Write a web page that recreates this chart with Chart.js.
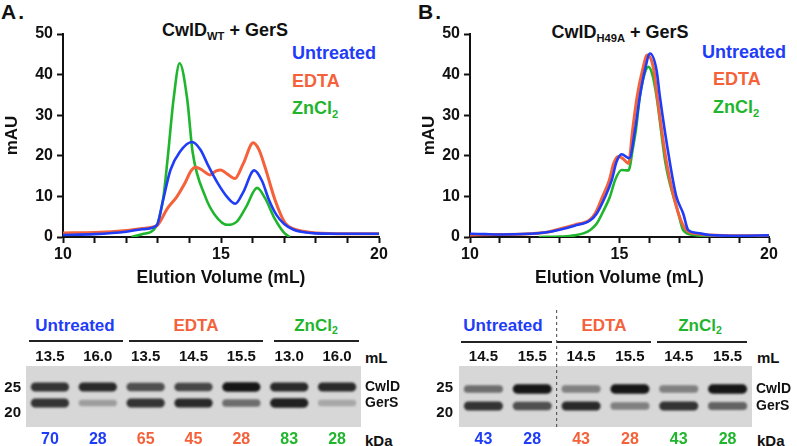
<!DOCTYPE html>
<html>
<head>
<meta charset="utf-8">
<script src="https://cdn.jsdelivr.net/npm/chart.js@4.4.0/dist/chart.umd.min.js"></script>
<style>
body { margin:0; width:797px; height:446px; background:#fff; position:relative; overflow:hidden;
       font-family:"Liberation Sans", Arial, Helvetica, sans-serif; font-weight:bold; color:#111; }
canvas { position:absolute; }
.t { position:absolute; white-space:nowrap; transform:translate(0,-50%); line-height:1; }
.c { transform:translate(-50%,-50%); }
.rule { position:absolute; height:2px; background:#222; }
sub { font-size:0.62em; vertical-align:-0.35em; line-height:0; }
.blue { color:#1f3cf7; } .orange { color:#f4613a; } .green { color:#1fb52d; }
</style>
</head>
<body>

<div class="t" style="left:1px;top:11px;font-size:21px;letter-spacing:2px">A.</div>
<div class="t c" style="left:225px;top:30px;font-size:18px">CwlD<sub>WT</sub> + GerS</div>
<div class="t blue" style="left:292px;top:53px;font-size:18px">Untreated</div>
<div class="t orange" style="left:292px;top:81px;font-size:18px">EDTA</div>
<div class="t green" style="left:292px;top:108px;font-size:18px">ZnCl<sub>2</sub></div>

<div class="t" style="left:418px;top:11px;font-size:21px;letter-spacing:2px">B.</div>
<div class="t c" style="left:620px;top:32px;font-size:18px">CwlD<sub>H49A</sub> + GerS</div>
<div class="t blue" style="left:702px;top:52px;font-size:18px">Untreated</div>
<div class="t orange" style="left:713px;top:79px;font-size:18px">EDTA</div>
<div class="t green" style="left:713px;top:107px;font-size:18px">ZnCl<sub>2</sub></div>

<canvas id="traceA" width="397" height="292" style="left:0;top:0"></canvas>
<canvas id="traceB" width="400" height="292" style="left:397px;top:0"></canvas>

<!-- gel headers -->
<div class="t c blue" style="left:75px;top:325px;font-size:17px">Untreated</div>
<div class="t c orange" style="left:196px;top:325px;font-size:17px">EDTA</div>
<div class="t c green" style="left:316px;top:325px;font-size:17px">ZnCl<sub>2</sub></div>
<div class="rule" style="left:29px;width:94px;top:340px"></div>
<div class="rule" style="left:129px;width:134px;top:340px"></div>
<div class="rule" style="left:274px;width:85px;top:340px"></div>
<div class="t" style="left:365px;top:357px;font-size:15px">mL</div>
<div class="t" style="left:365px;top:440px;font-size:15px">kDa</div>

<div class="t c blue" style="left:503px;top:325px;font-size:17px">Untreated</div>
<div class="t c orange" style="left:604px;top:325px;font-size:17px">EDTA</div>
<div class="t c green" style="left:700px;top:325px;font-size:17px">ZnCl<sub>2</sub></div>
<div class="rule" style="left:461px;width:91px;top:341px"></div>
<div class="rule" style="left:557px;width:94px;top:341px"></div>
<div class="rule" style="left:657px;width:90px;top:341px"></div>
<div class="t" style="left:757px;top:357px;font-size:15px">mL</div>
<div class="t" style="left:757px;top:440px;font-size:15px">kDa</div>

<canvas id="gelA" width="420" height="146" style="left:0;top:300px"></canvas>
<canvas id="gelB" width="400" height="146" style="left:397px;top:300px"></canvas>

<script>
// ---- panel A traces (CwlD WT + GerS): elution volume (mL) / absorbance (mAU)
const wtUntreatedVol = [10, 11, 12, 12.5, 12.97, 13.15, 13.4, 13.7, 14.08, 14.35, 14.6, 14.9, 15.2, 15.45, 15.7, 16.05, 16.3, 16.5, 16.75, 17.0, 17.3, 17.7, 18, 19, 20];
const wtUntreatedAbs = [0.5, 0.7, 1.3, 1.9, 2.9, 8.5, 16.5, 21.0, 23.4, 21.5, 17.5, 13.2, 9.8, 8.2, 11.0, 16.4, 13.8, 9.5, 5.5, 3.2, 1.8, 1.1, 0.9, 0.8, 0.8];
const wtEdtaVol = [10, 11, 12, 12.5, 12.97, 13.3, 13.6, 13.86, 14.05, 14.2, 14.4, 14.65, 14.85, 14.99, 15.2, 15.44, 15.7, 16.02, 16.2, 16.39, 16.71, 17.03, 17.3, 17.6, 18, 19, 20];
const wtEdtaAbs = [1.0, 1.1, 1.6, 2.1, 2.8, 7.0, 9.9, 13.3, 16.3, 17.2, 16.5, 15.3, 16.3, 16.5, 15.5, 14.4, 18.0, 23.2, 21.5, 17.3, 9.1, 3.4, 2.0, 1.4, 1.0, 0.8, 0.8];
const wtZnVol = [12.17, 12.5, 12.86, 13.0, 13.18, 13.32, 13.5, 13.69, 13.93, 14.1, 14.5, 14.8, 15.2, 15.5, 15.8, 16.14, 16.4, 16.7, 17.0, 17.18];
const wtZnAbs = [0, 0.7, 1.7, 3.5, 10, 20, 34, 42.8, 34, 21, 10, 5.5, 3.0, 3.8, 7.5, 12.1, 9.5, 4.5, 1.0, 0];

// ---- panel B traces (CwlD H49A + GerS)
const h49UntreatedVol = [10, 10.5, 11, 12, 12.5, 13, 13.5, 14, 14.24, 14.52, 14.74, 14.9, 15.07, 15.33, 15.52, 15.68, 15.85, 16.02, 16.24, 16.35, 16.69, 16.9, 17.13, 17.3, 17.6, 18, 19, 20];
const h49UntreatedAbs = [0.8, 0.7, 0.6, 0.8, 1.1, 1.8, 2.8, 4.0, 5.8, 9.9, 14.0, 18.5, 20.4, 19.4, 26.4, 34.6, 41.1, 45.2, 41.1, 34.6, 18.1, 10, 5.8, 1.7, 1.0, 0.5, 0.3, 0.4];
const h49EdtaVol = [10, 11, 12, 12.5, 13, 13.5, 14, 14.2, 14.43, 14.66, 14.8, 14.96, 15.12, 15.3, 15.44, 15.59, 15.77, 15.93, 16.15, 16.26, 16.58, 16.97, 17.24, 17.6, 18, 19, 20];
const h49EdtaAbs = [0.5, 0.6, 0.8, 1.1, 2.0, 3.0, 4.2, 6.0, 9.9, 14.0, 18.0, 19.8, 19.3, 18.1, 26.4, 34.6, 41.1, 44.8, 41.1, 34.6, 18.1, 5.8, 1.7, 0.8, 0.5, 0.3, 0.3];
const h49ZnVol = [12.3, 13, 13.5, 14, 14.24, 14.5, 14.68, 14.85, 15.07, 15.3, 15.45, 15.55, 15.68, 15.85, 15.97, 16.1, 16.24, 16.54, 16.97, 17.13, 17.5, 18, 18.7];
const h49ZnAbs = [0, 0.1, 0.4, 1.6, 3.3, 7.0, 9.9, 14.0, 16.5, 16.4, 22, 26.4, 34.6, 40.5, 41.9, 40, 34.6, 18.1, 5.8, 1.7, 0.5, 0.2, 0];

const xTickLabels = [10, 15, 20];

// ---- gels: lanes, MW markers and band intensities (0..1)
const markerKda = [25, 20];
const bandNames = ['CwlD', 'GerS'];
const gelAVolumes = ['13.5', '16.0', '13.5', '14.5', '15.5', '13.0', '16.0'];
const gelAKda = ['70', '28', '65', '45', '28', '83', '28'];
const gelAGroups = ['Untreated', 'Untreated', 'EDTA', 'EDTA', 'EDTA', 'ZnCl2', 'ZnCl2'];
const gelACwlD = [0.85, 0.9, 0.7, 0.75, 1.0, 0.9, 0.9];
const gelAGerS = [0.85, 0.3, 0.85, 0.9, 0.55, 0.95, 0.25];
const gelABandKda = [25.2, 22.0];

const gelBVolumes = ['14.5', '15.5', '14.5', '15.5', '14.5', '15.5'];
const gelBKda = ['43', '28', '43', '28', '43', '28'];
const gelBGroups = ['Untreated', 'Untreated', 'EDTA', 'EDTA', 'ZnCl2', 'ZnCl2'];
const gelBCwlD = [0.55, 1.0, 0.45, 1.0, 0.45, 1.0];
const gelBGerS = [0.85, 0.7, 0.9, 0.45, 0.85, 0.6];
const gelBBandKda = [24.8, 21.4];

const colors = { Untreated: '#1f3cf7', EDTA: '#f4613a', ZnCl2: '#1fb52d' };
const FONT = '"Liberation Sans", Arial, Helvetica, sans-serif';

function pts(xs, ys) {
    return xs.map((x, i) => ({ x: x, y: ys[i] }));
}

function makeTrace(id, series, axisWidth, rightPad, titleOffset) {
    let ctx = document.getElementById(id).getContext('2d');
    return new Chart(ctx, {
        type: 'line',
        data: {
            datasets: series.map(s => ({
                data: s.data,
                borderColor: colors[s.name],
                borderWidth: s.name === 'EDTA' ? 3 : 2.6,
                pointRadius: 0,
                fill: false,
                cubicInterpolationMode: 'monotone'
            }))
        },
        options: {
            responsive: false,
            animation: false,
            layout: { padding: { top: 34, right: rightPad, left: 0, bottom: 0 } },
            plugins: { legend: { display: false }, tooltip: { enabled: false } },
            scales: {
                x: {
                    type: 'linear', min: 10, max: 20,
                    afterFit: s => { s.height = 55; },
                    border: { display: true, color: '#111', width: 2 },
                    grid: { drawOnChartArea: false, drawTicks: true, tickLength: 6, tickWidth: 2, tickColor: '#111' },
                    ticks: {
                        stepSize: 1, autoSkip: false, maxRotation: 0, padding: 2,
                        color: '#111', font: { family: FONT, size: 16, weight: 'bold' },
                        callback: v => xTickLabels.includes(v) ? String(v) : ''
                    },
                    title: {
                        display: true, text: 'Elution Volume (mL)', color: '#111',
                        font: { family: FONT, size: 17.5, weight: 'bold' },
                        padding: { top: 0, bottom: 3.5 }
                    }
                },
                y: {
                    min: 0, max: 50,
                    afterFit: s => { s.width = axisWidth; },
                    border: { display: true, color: '#111', width: 2 },
                    grid: { drawOnChartArea: false, drawTicks: true, tickLength: 6, tickWidth: 2, tickColor: '#111' },
                    ticks: {
                        stepSize: 10, padding: 4, color: '#111',
                        font: { family: FONT, size: 16, weight: 'bold' }
                    },
                    title: {
                        display: true, text: 'mAU', color: '#111',
                        font: { family: FONT, size: 17, weight: 'bold' },
                        padding: { top: titleOffset, bottom: 0 }
                    }
                }
            }
        }
    });
}

makeTrace('traceA', [
    { name: 'Untreated', data: pts(wtUntreatedVol, wtUntreatedAbs) },
    { name: 'EDTA', data: pts(wtEdtaVol, wtEdtaAbs) },
    { name: 'ZnCl2', data: pts(wtZnVol, wtZnAbs) }
], 63, 18, 2);

makeTrace('traceB', [
    { name: 'Untreated', data: pts(h49UntreatedVol, h49UntreatedAbs) },
    { name: 'EDTA', data: pts(h49EdtaVol, h49EdtaAbs) },
    { name: 'ZnCl2', data: pts(h49ZnVol, h49ZnAbs) }
], 73, 28, 22);

// gel background + soft band edges
const gelLook = {
    id: 'gelLook',
    beforeDatasetsDraw(chart) {
        const a = chart.chartArea, c = chart.ctx;
        c.save();
        c.fillStyle = '#d7d7d7';
        c.fillRect(a.left, a.top, a.right - a.left, a.bottom - a.top);
        c.filter = 'blur(1.3px)';
    },
    afterDatasetsDraw(chart) {
        chart.ctx.restore();
        const split = chart.options.plugins.gelLook.split;
        if (split) {
            const x = chart.scales.x, c = chart.ctx;
            const px = (x.getPixelForValue(split - 1) + x.getPixelForValue(split)) / 2;
            c.save();
            c.strokeStyle = '#444';
            c.lineWidth = 1;
            c.setLineDash([3, 3]);
            c.beginPath();
            c.moveTo(px, 10);
            c.lineTo(px, chart.chartArea.bottom);
            c.stroke();
            c.restore();
        }
    }
};

function band(kda, level) {
    let half = 0.55 + 0.4 * level;
    return [kda - half, kda + half];
}

const noTicks = { display: false, drawTicks: false, tickLength: 0 };

function makeGel(id, g) {
    let ctx = document.getElementById(id).getContext('2d');
    let lanes = [g.cwld, g.gers];
    return new Chart(ctx, {
        type: 'bar',
        data: {
            labels: g.volumes,
            datasets: lanes.map((levels, b) => ({
                label: bandNames[b],
                data: levels.map(l => band(g.bandKda[b], l)),
                backgroundColor: levels.map(l => 'rgba(22,22,22,' + l + ')'),
                borderRadius: 5,
                borderSkipped: false,
                grouped: false,
                barPercentage: 0.8,
                categoryPercentage: 1
            }))
        },
        options: {
            responsive: false,
            animation: false,
            layout: { padding: 0 },
            plugins: { legend: { display: false }, tooltip: { enabled: false }, gelLook: { split: g.split } },
            scales: {
                x: {
                    position: 'top',
                    afterFit: s => { s.height = 66; },
                    grid: noTicks, border: { display: false },
                    ticks: { padding: 0, color: '#111', font: { family: FONT, size: 15, weight: 'bold' } }
                },
                x2: {
                    type: 'category', labels: g.kda, position: 'bottom', offset: true,
                    afterFit: s => { s.height = 19; },
                    grid: noTicks, border: { display: false },
                    ticks: {
                        padding: 3, font: { family: FONT, size: 16, weight: 'bold' },
                        color: c => colors[g.groups[c.index]]
                    }
                },
                y: {
                    min: 17.2, max: 29.4,
                    afterFit: s => { s.width = g.left; },
                    afterBuildTicks: s => { s.ticks = markerKda.map(v => ({ value: v })); },
                    grid: noTicks, border: { display: false },
                    ticks: { padding: g.markerPad, color: '#111', font: { family: FONT, size: 15, weight: 'bold' } }
                },
                y2: {
                    position: 'right', min: 17.2, max: 29.4,
                    afterFit: s => { s.width = g.right; },
                    afterBuildTicks: s => { s.ticks = g.bandKda.map(v => ({ value: v })); },
                    grid: noTicks, border: { display: false },
                    ticks: {
                        padding: 4, color: '#111', font: { family: FONT, size: 14, weight: 'bold' },
                        callback: (v, i) => bandNames[i]
                    }
                }
            }
        },
        plugins: [gelLook]
    });
}

makeGel('gelA', {
    volumes: gelAVolumes, kda: gelAKda, groups: gelAGroups,
    cwld: gelACwlD, gers: gelAGerS, bandKda: gelABandKda,
    left: 26, right: 59, markerPad: 5, split: 0
});

makeGel('gelB', {
    volumes: gelBVolumes, kda: gelBKda, groups: gelBGroups,
    cwld: gelBCwlD, gers: gelBGerS, bandKda: gelBBandKda,
    left: 62, right: 45, markerPad: 6, split: 2
});
</script>
</body>
</html>
